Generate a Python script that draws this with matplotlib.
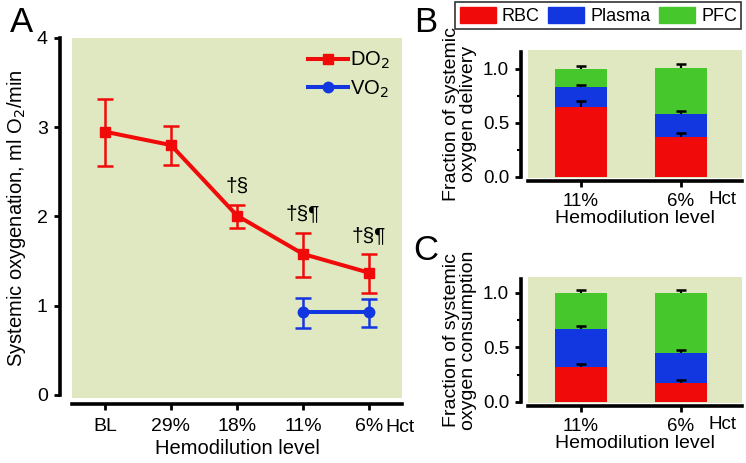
import numpy as np
import matplotlib
matplotlib.use("Agg")
import matplotlib.pyplot as plt
from matplotlib.patches import Patch
from matplotlib.lines import Line2D

plt.rcParams['font.family'] = ['Liberation Sans', 'DejaVu Sans']

# panel A data
levels_a = ["BL", "29%", "18%", "11%", "6%"]
do2 = [2.95, 2.80, 2.01, 1.58, 1.37]
do2_lo = [2.57, 2.58, 1.87, 1.32, 1.14]
do2_hi = [3.32, 3.01, 2.13, 1.82, 1.58]
vo2_levels = ["11%", "6%"]
vo2 = [0.93, 0.93]
vo2_lo = [0.75, 0.76]
vo2_hi = [1.09, 1.08]
sig_marks = {"18%": "†§", "11%": "†§¶", "6%": "†§¶"}

# panels B and C data (fractions, stacked)
levels_bc = ["11%", "6%"]
deliv_rbc = [0.65, 0.37]
deliv_plasma = [0.18, 0.21]
deliv_pfc = [0.17, 0.43]
deliv_err = {"rbc": [0.05, 0.04], "plasma": [0.02, 0.03], "pfc": [0.03, 0.04]}
cons_rbc = [0.32, 0.17]
cons_plasma = [0.35, 0.28]
cons_pfc = [0.33, 0.55]
cons_err = {"rbc": [0.03, 0.03], "plasma": [0.03, 0.03], "pfc": [0.03, 0.03]}

RED = "#f00a0a"
BLUE = "#1236e0"
GREEN = "#46c82c"
BG = "#dfe8c0"
W, H = 746, 463


def px_axes(l, t, r, b):
    return fig.add_axes([l / W, 1 - b / H, (r - l) / W, (b - t) / H])


def style_spines(ax, left_out, bottom_out, ybounds, size, xpad):
    ax.set_facecolor(BG)
    for s in ["top", "right"]:
        ax.spines[s].set_visible(False)
    ax.spines["left"].set_position(("outward", left_out))
    ax.spines["bottom"].set_position(("outward", bottom_out))
    ax.spines["left"].set_bounds(*ybounds)
    for s in ["left", "bottom"]:
        ax.spines[s].set_linewidth(2.6)
    ax.tick_params(width=2, length=4.5, labelsize=size, pad=4)
    ax.tick_params(axis="x", pad=xpad)
    ax.tick_params(which="minor", width=1.5, length=3)


fig = plt.figure(figsize=(W / 100, H / 100), dpi=100)

# ---------- panel A ----------
ax = px_axes(72, 38, 402, 398)
xa = np.arange(len(levels_a))
ax.errorbar(xa, do2, yerr=[np.subtract(do2, do2_lo), np.subtract(do2_hi, do2)],
            color=RED, lw=2.9, marker="s", ms=7.5, capsize=5.5, elinewidth=1.8, capthick=1.8)
xv = [levels_a.index(l) for l in vo2_levels]
ax.errorbar(xv, vo2, yerr=[np.subtract(vo2, vo2_lo), np.subtract(vo2_hi, vo2)],
            color=BLUE, lw=2.9, marker="o", ms=7.5, capsize=5.5, elinewidth=1.8, capthick=1.8)
for lev, txt in sig_marks.items():
    i = levels_a.index(lev)
    ax.text(i, do2_hi[i] + 0.1, txt, ha="center", va="bottom", fontsize=15)
ax.set_xlim(-0.5, 4.5)
ax.set_ylim(-0.034, 4.0)
ax.set_xticks(xa)
ax.set_xticklabels(levels_a)
ax.set_yticks([0, 1, 2, 3, 4])
style_spines(ax, 9, 4, (0, 4), 14, 6)
ax.set_ylabel("Systemic oxygenation, ml O$_2$/min", fontsize=14.5, labelpad=6)
ax.set_xlabel("Hemodilution level", fontsize=14.5, labelpad=3)
ax.text(4.25, -0.37, "Hct", fontsize=14, va="center", ha="left")
handles = [Line2D([], [], color=RED, lw=2.9, marker="s", ms=7.5),
           Line2D([], [], color=BLUE, lw=2.9, marker="o", ms=7.5)]
ax.legend(handles, ["DO$_2$", "VO$_2$"], loc="upper right", frameon=False, fontsize=14.5,
          handlelength=2.0, handletextpad=0.1, borderaxespad=0.2, labelspacing=0.35)
fig.text(22 / W, 1 - 22 / H, "A", fontsize=25, va="center", ha="center")


# ---------- panels B, C ----------
def stacked(ax, rbc, plasma, pfc, err, ylabel, hct_y):
    x = np.arange(len(levels_bc))
    rbc = np.array(rbc)
    plasma = np.array(plasma)
    pfc = np.array(pfc)
    ax.bar(x, rbc, 0.52, color=RED)
    ax.bar(x, plasma, 0.52, bottom=rbc, color=BLUE)
    ax.bar(x, pfc, 0.52, bottom=rbc + plasma, color=GREEN)
    tops = [rbc, rbc + plasma, rbc + plasma + pfc]
    for top, key in zip(tops, ["rbc", "plasma", "pfc"]):
        e = np.array(err[key])
        _, caps, _ = ax.errorbar(x, top, yerr=[np.zeros_like(e), e], fmt="none",
                                 ecolor="black", elinewidth=1.6, capsize=3.6, capthick=1.8)
        caps[0].set_visible(False)
    ax.set_xlim(-0.53, 1.61)
    ax.set_xticks(x)
    ax.set_xticklabels(levels_bc)
    ax.set_yticks([0, 0.5, 1.0])
    ax.set_yticks([0.25, 0.75], minor=True)
    ax.set_yticklabels(["0.0", "0.5", "1.0"])
    ax.set_ylabel(ylabel, fontsize=14, labelpad=4, linespacing=1.0)
    ax.set_xlabel("Hemodilution level", fontsize=14, labelpad=0)
    ax.text(1.28, hct_y, "Hct", fontsize=13.5, va="center", ha="left")


axb = px_axes(528, 50, 742, 178)
axb.set_ylim(-0.01, 1.176)
stacked(axb, deliv_rbc, deliv_plasma, deliv_pfc, deliv_err,
        "Fraction of systemic\noxygen delivery", -0.205)
style_spines(axb, 5, 2, (0, 1.16), 13.5, 4)

axc = px_axes(528, 277, 742, 403)
axc.set_ylim(-0.01, 1.145)
stacked(axc, cons_rbc, cons_plasma, cons_pfc, cons_err,
        "Fraction of systemic\noxygen consumption", -0.205)
style_spines(axc, 5, 2, (0, 1.13), 13.5, 4)

fig.text(426 / W, 1 - 23 / H, "B", fontsize=25, va="center", ha="center")
fig.text(426 / W, 1 - 250 / H, "C", fontsize=25, va="center", ha="center")

leg = fig.legend([Patch(color=RED), Patch(color=BLUE), Patch(color=GREEN)],
                 ["RBC", "Plasma", "PFC"], ncol=3, loc="upper left",
                 bbox_to_anchor=(455 / W, 1 - 2 / H), fontsize=13,
                 handlelength=2.0, handleheight=1.0, handletextpad=0.35,
                 columnspacing=0.45, borderpad=0.25, borderaxespad=0, fancybox=False,
                 edgecolor="black")
leg.get_frame().set_linewidth(1.2)

fig.savefig("out.png", dpi=100)
